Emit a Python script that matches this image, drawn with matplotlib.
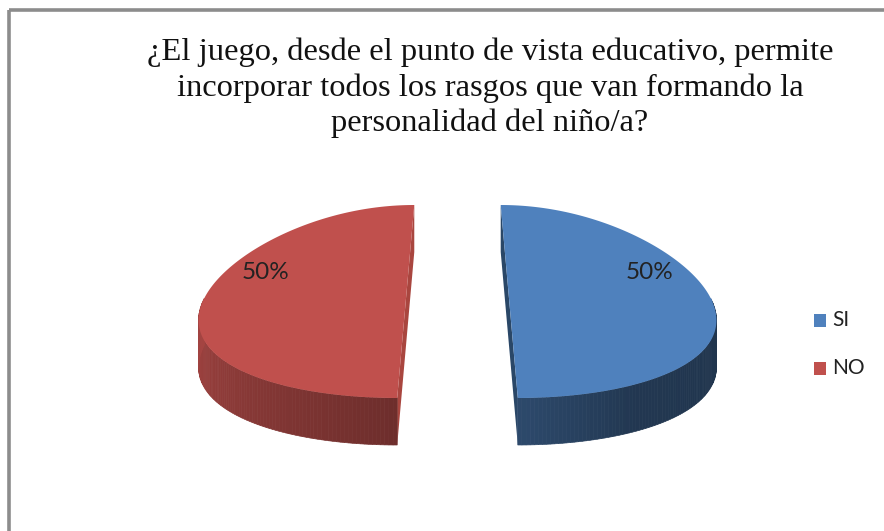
import numpy as np
import matplotlib
matplotlib.use("Agg")
import matplotlib.pyplot as plt
from matplotlib.patches import Polygon, Rectangle
from matplotlib.lines import Line2D

# ---- data ----
title = "¿El juego, desde el punto de vista educativo, permite\nincorporar todos los rasgos que van formando la\npersonalidad del niño/a?"
categories = ["SI", "NO"]
values = [50, 50]
top_colors = ["#4F81BD", "#C0504D"]
cut_colors = ["#2A4767", "#A9463F"]

W, H = 884, 531
fig = plt.figure(figsize=(W / 100, H / 100), dpi=100)
ax = fig.add_axes([0, 0, 1, 1])
ax.set_xlim(0, W)
ax.set_ylim(H, 0)
ax.axis("off")

# frame (only top and left visible)
ax.add_line(Line2D([9, W], [10, 10], color="#8C8C8C", lw=2.6, solid_capstyle="butt"))
ax.add_line(Line2D([9, 9], [10, H], color="#8C8C8C", lw=2.6, solid_capstyle="butt"))

# ---- 3D pie geometry ----
X0, Y0 = 457.5, 301.5   # pie centre on screen
R, B = 203.0, 96.5      # horizontal / vertical semi-axes
K = 0.165               # perspective strength
D = 47.0                # thickness
EXPL = 0.255            # explosion (in radius units)


def proj(u, v, dz=0.0):
    x = X0 + R * (1 - K * v) * u
    y = Y0 - B * v + dz
    return x, y


def shade(theta_deg):
    t = theta_deg % 360
    return np.interp(t, [180, 270, 300, 360], [0.86, 0.57, 0.43, 0.40])


def scale_color(hexc, f):
    c = np.array(matplotlib.colors.to_rgb(hexc))
    return tuple(np.clip(c * f, 0, 1))


total = sum(values)
start = 90.0
for i, (cat, val) in enumerate(zip(categories, values)):
    sweep = 360.0 * val / total
    th0, th1 = start, start - sweep
    mid = np.radians((th0 + th1) / 2)
    ou, ov = EXPL * np.cos(mid), EXPL * np.sin(mid)
    ths = np.linspace(th0, th1, 181)
    rad = np.radians(ths)
    us = ou + np.cos(rad)
    vs = ov + np.sin(rad)

    # cut face (the flat face along the split diameter)
    pa = proj(us[0], vs[0])
    pb = proj(us[-1], vs[-1])
    cut = [pa, pb, (pb[0], pb[1] + D), (pa[0], pa[1] + D)]
    ax.add_patch(Polygon(cut, closed=True, facecolor=cut_colors[i], edgecolor="none", zorder=2))

    # side wall, front-facing segments only
    for j in range(len(ths) - 1):
        if np.sin(rad[j]) > 0.02 and np.sin(rad[j + 1]) > 0.02:
            continue
        p1 = proj(us[j], vs[j])
        p2 = proj(us[j + 1], vs[j + 1])
        quad = [p1, p2, (p2[0], p2[1] + D), (p1[0], p1[1] + D)]
        col = scale_color(top_colors[i], shade((ths[j] + ths[j + 1]) / 2))
        ax.add_patch(Polygon(quad, closed=True, facecolor=col, edgecolor=col,
                             lw=0.5, zorder=3))

    # top face
    pts = [proj(ou, ov)] + [proj(u, v) for u, v in zip(us, vs)]
    ax.add_patch(Polygon(pts, closed=True, facecolor=top_colors[i], edgecolor="none", zorder=4))

    # percentage label
    lx, ly = proj(ou + 0.74 * np.cos(mid), 0.30)
    pct = f"{round(100 * val / total)}%"
    ax.text(lx, ly, pct, ha="center", va="center", fontsize=17.5,
            family="Lato", color="#222222", zorder=6)
    start = th1

# ---- title ----
ax.text(490, 88, title, ha="center", va="center", fontsize=23.4,
        family="Liberation Serif", color="#111111", linespacing=1.27)

# ---- legend ----
leg_y = [320, 368]
for i, cat in enumerate(categories):
    ax.add_patch(Rectangle((814, leg_y[i] - 6), 12, 13, facecolor=top_colors[i],
                           edgecolor="none"))
    ax.text(832, leg_y[i], cat, ha="left", va="center", fontsize=15,
            family="Lato", color="#222222")

fig.savefig("out.png", dpi=100)
